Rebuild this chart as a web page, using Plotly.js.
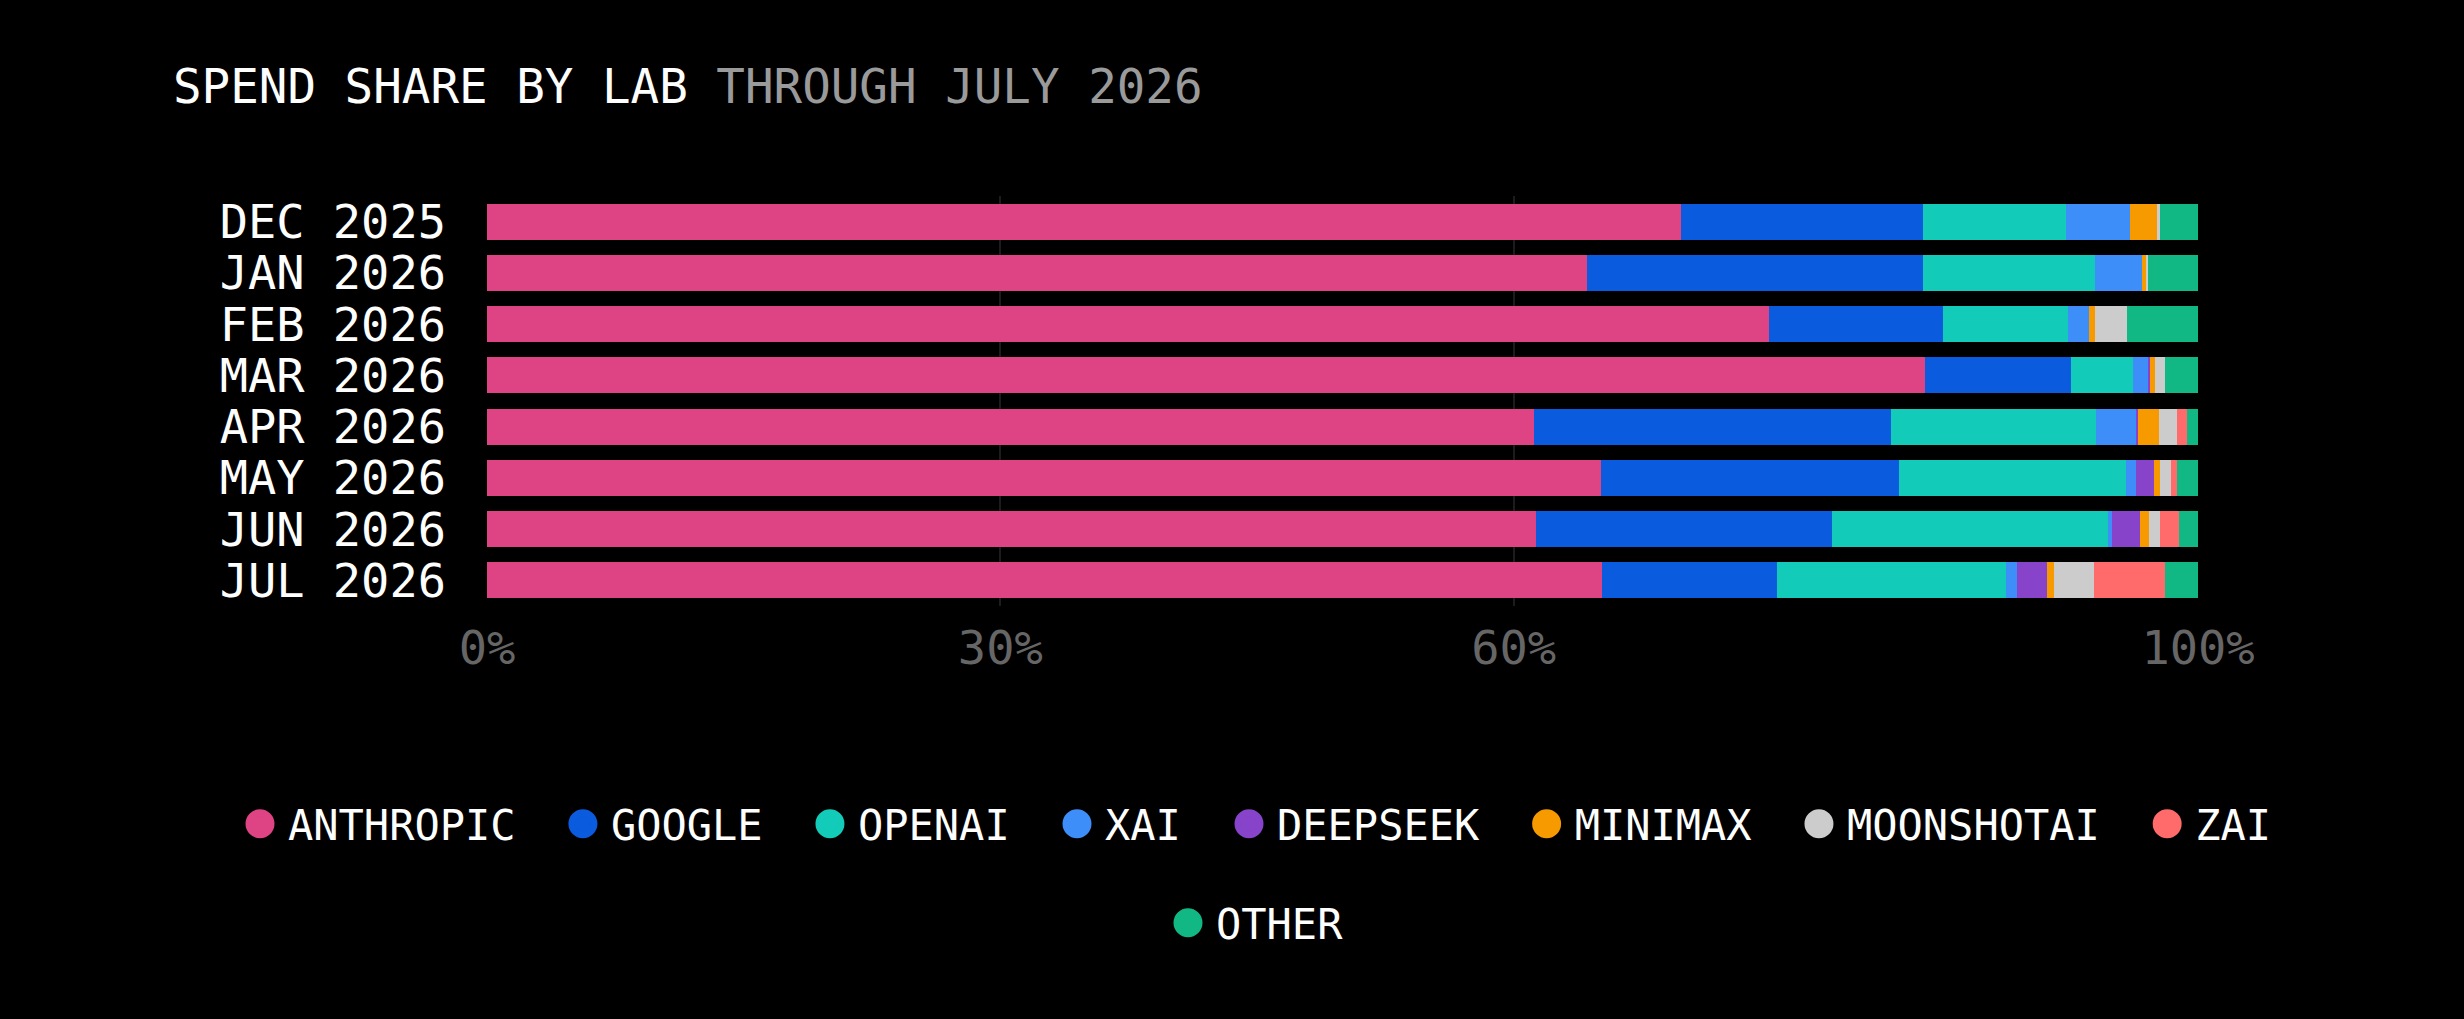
<!DOCTYPE html>
<html>
<head>
<meta charset="utf-8">
<script src="https://cdn.plot.ly/plotly-3.0.1.min.js"></script>
<style>
  html, body { margin: 0; padding: 0; background: #000; }
  #chart { width: 2464px; height: 1019px; }
  #chart .legendpoints path.scatterpts { transform: translate(28px, 0px) scale(1.38); }
</style>
</head>
<body>
<div id="chart"></div>
<script>
// ---- Data (percent share of spend) ----
const months = ["DEC 2025", "JAN 2026", "FEB 2026", "MAR 2026", "APR 2026", "MAY 2026", "JUN 2026", "JUL 2026"];
const labs = ["ANTHROPIC", "GOOGLE", "OPENAI", "XAI", "DEEPSEEK", "MINIMAX", "MOONSHOTAI", "ZAI", "OTHER"];
const anthropic  = [69.8, 64.3, 74.9, 84.05, 61.2, 65.1, 61.3, 65.15];
const google     = [14.1, 19.6, 10.2, 8.55, 20.85, 17.45, 17.3, 10.25];
const openai     = [8.4, 10.1, 7.3, 3.6, 12.0, 13.25, 16.15, 13.4];
const xai        = [3.7, 2.75, 1.25, 0.9, 2.3, 0.6, 0.25, 0.65];
const deepseek   = [0.0, 0.0, 0.0, 0.1, 0.15, 1.05, 1.6, 1.75];
const minimax    = [1.6, 0.25, 0.35, 0.3, 1.2, 0.35, 0.55, 0.4];
const moonshotai = [0.2, 0.1, 1.85, 0.55, 1.1, 0.6, 0.6, 2.3];
const zai        = [0.0, 0.0, 0.0, 0.0, 0.55, 0.4, 1.15, 4.2];
const other      = [2.2, 2.9, 4.15, 1.95, 0.65, 1.2, 1.1, 1.9];
const tickVals   = [0, 30, 60, 100];
const tickText   = ["0%", "30%", "60%", "100%"];

const series = [anthropic, google, openai, xai, deepseek, minimax, moonshotai, zai, other];
const colors = ["#DE4383", "#0A5BDE", "#12CBB8", "#3D8EF8", "#8743C9", "#F79A00", "#CCCCCC", "#FF6B6B", "#12B883"];
// which legend box each lab's entry sits in (row 1 split in two halves, OTHER on row 2)
const legendOf = ["legend", "legend", "legend", "legend", "legend3", "legend3", "legend3", "legend3", "legend2"];

const FONT = "DejaVu Sans Mono, Liberation Mono, monospace";
const SPACER = '<span style="font-size:28.5px">\u00A0\u00A0</span>';

const traces = [];
labs.forEach((lab, i) => {
  traces.push({
    type: "bar",
    orientation: "h",
    name: lab,
    y: months,
    x: series[i],
    marker: { color: colors[i], line: { width: 0 } },
    legendgroup: lab,
    showlegend: false,
    hovertemplate: lab + " %{y}: %{x:.1f}%<extra></extra>"
  });
});
// legend entries with circle symbols
labs.forEach((lab, i) => {
  const last = (i === 3 || i === 7 || i === 8);
  traces.push({
    type: "scatter",
    mode: "markers",
    x: [null],
    y: [null],
    name: last ? lab : lab + SPACER,
    marker: { color: colors[i], size: 16, symbol: "circle", line: { color: colors[i], width: 5 } },
    legendgroup: lab,
    legend: legendOf[i],
    hoverinfo: "skip"
  });
});

const legendBase = {
  orientation: "h",
  xref: "container",
  yref: "container",
  xanchor: "left",
  yanchor: "middle",
  itemwidth: 46,
  font: { family: FONT, size: 42, color: "#ffffff" },
  bgcolor: "rgba(0,0,0,0)",
  traceorder: "normal"
};

const layout = {
  width: 2464,
  height: 1019,
  paper_bgcolor: "#000000",
  plot_bgcolor: "#000000",
  barmode: "stack",
  bargap: 0.3,
  margin: { l: 487, r: 266, t: 196, b: 413 },
  font: { family: FONT, color: "#ffffff" },
  title: {
    text: 'SPEND SHARE BY LAB <span style="color:#9a9a9a">THROUGH JULY 2026</span>',
    font: { family: FONT, size: 47.5, color: "#ffffff" },
    xref: "container",
    yref: "container",
    x: 173 / 2464,
    xanchor: "left",
    y: 1 - 86 / 1019,
    yanchor: "middle"
  },
  xaxis: {
    range: [0, 100],
    tickvals: tickVals,
    ticktext: tickText,
    showgrid: true,
    gridcolor: "#1c1c1c",
    gridwidth: 2,
    zeroline: false,
    showline: false,
    ticks: "",
    ticklabelstandoff: 10,
    tickfont: { family: FONT, size: 47, color: "#666666" },
    fixedrange: true
  },
  yaxis: {
    type: "category",
    categoryorder: "array",
    categoryarray: months,
    tickmode: "array",
    tickvals: months,
    ticktext: months,
    range: [7.5, -0.5],
    showgrid: false,
    zeroline: false,
    showline: false,
    ticks: "",
    ticklabelstandoff: 40,
    tickfont: { family: FONT, size: 47, color: "#ffffff" },
    fixedrange: true
  },
  legend:  Object.assign({}, legendBase, { x: 232 / 2464,  y: 1 - 824 / 1019 }),
  legend3: Object.assign({}, legendBase, { x: 1221 / 2464, y: 1 - 824 / 1019 }),
  legend2: Object.assign({}, legendBase, { x: 1160 / 2464, y: 1 - 923 / 1019 }),
  showlegend: true
};

Plotly.newPlot("chart", traces, layout, { displayModeBar: false, responsive: false });
</script>
</body>
</html>
